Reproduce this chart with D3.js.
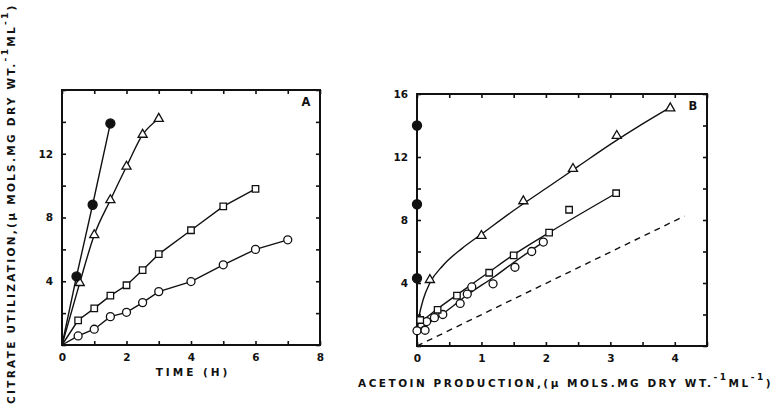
<!DOCTYPE html>
<html lang="en">
<head>
  <meta charset="UTF-8">
  <title>Citrate utilization</title>
  <script src="https://cdn.jsdelivr.net/npm/d3@7"></script>
  <style>
    body { margin: 0; background: #fff; }
    text { font-family: "DejaVu Sans", sans-serif; font-weight: bold; fill: #111; }
  </style>
</head>
<body>
<svg></svg>
<script>
  const width = 777, height = 410

  // panel A : citrate used vs time (h)
  const aTicksX = [0, 1, 2, 3, 4, 5, 6, 7, 8]
  const aLabelsX = [0, 2, 4, 6, 8]
  const ticksY = [0, 2, 4, 6, 8, 10, 12, 14, 16]
  const aLabelsY = [4, 8, 12]

  const aDotT = [0.45, 0.95, 1.5]
  const aDotV = [4.3, 8.8, 13.9]
  const aTriT = [0.55, 1.0, 1.5, 2.0, 2.5, 3.0]
  const aTriV = [3.9, 6.9, 9.1, 11.2, 13.2, 14.2]
  const aSqT = [0.5, 1.0, 1.5, 2.0, 2.5, 3.0, 4.0, 5.0, 6.0]
  const aSqV = [1.55, 2.3, 3.1, 3.75, 4.7, 5.7, 7.2, 8.7, 9.8]
  const aCirT = [0.5, 1.0, 1.5, 2.0, 2.5, 3.0, 4.0, 5.0, 6.0, 7.0]
  const aCirV = [0.57, 0.99, 1.78, 2.05, 2.66, 3.35, 3.98, 5.03, 6.0, 6.6]

  // panel B : citrate used vs acetoin produced
  const bTicksX = [0, 0.5, 1, 1.5, 2, 2.5, 3, 3.5, 4, 4.5]
  const bLabelsX = [0, 1, 2, 3, 4]
  const bLabelsY = [4, 8, 12, 16]

  const bDotX = [0, 0, 0]
  const bDotV = [4.3, 9.0, 14.0]
  const bTriX = [0.2, 1.0, 1.65, 2.42, 3.1, 3.93]
  const bTriV = [4.2, 7.0, 9.2, 11.25, 13.35, 15.1]
  const bTriFitX = [0.01, 0.03, 0.1, 0.2, 0.4, 0.7, 1.0, 1.5, 2.0, 2.5, 3.0, 3.5, 3.93]
  const bTriFitV = [1.2, 1.8, 3.0, 4.0, 5.1, 6.2, 7.1, 8.6, 10.0, 11.4, 12.8, 14.1, 15.15]
  const bSqX = [0.05, 0.32, 0.62, 1.12, 1.5, 2.05, 2.36, 3.09]
  const bSqV = [1.65, 2.3, 3.2, 4.65, 5.75, 7.2, 8.65, 9.7]
  const bSqFitX = [0.02, 0.3, 0.62, 1.12, 1.5, 2.05, 3.09]
  const bSqFitV = [1.4, 2.3, 3.25, 4.7, 5.8, 7.2, 9.7]
  const bCirX = [0, 0.125, 0.15, 0.27, 0.4, 0.67, 0.78, 0.85, 1.18, 1.52, 1.78, 1.96]
  const bCirV = [0.97, 1.0, 1.55, 1.8, 2.0, 2.7, 3.3, 3.75, 3.95, 5.0, 6.0, 6.6]
  const bCirFitX = [0, 0.4, 0.8, 1.2, 1.5, 1.96]
  const bCirFitV = [1.0, 2.05, 3.3, 4.4, 5.3, 6.6]
  const bDashX = [0, 4.15]
  const bDashV = [0, 8.25]

  const zip = (xs, ys) => xs.map((x, i) => [x, ys[i]])
  const withOrigin = (xs, ys) => [[0, 0], ...zip(xs, ys)]

  const svg = d3.select('svg')
      .attr('width', width)
      .attr('height', height)

  const xA = d3.scaleLinear().domain([0, 8]).range([62, 320])
  const yA = d3.scaleLinear().domain([0, 16]).range([345, 90])
  const xB = d3.scaleLinear().domain([0, 4.5]).range([417, 707])
  const yB = d3.scaleLinear().domain([0, 16]).range([346, 94])

  function frame(x, y, xt, xl, yl, letter) {
    const [x0, x1] = x.range(), [y0, y1] = y.range()
    const g = svg.append('g')
    const fmt = labels => d => labels.includes(d) ? d : ''

    g.append('g')
        .attr('transform', `translate(0,${y0})`)
        .call(d3.axisBottom(x).tickValues(xt).tickSize(-4).tickPadding(9).tickFormat(fmt(xl)))
    g.append('g')
        .attr('transform', `translate(0,${y1})`)
        .call(d3.axisTop(x).tickValues(xt).tickSize(-4).tickFormat(''))
    g.append('g')
        .attr('transform', `translate(${x0},0)`)
        .call(d3.axisLeft(y).tickValues(ticksY).tickSize(-4).tickPadding(9).tickFormat(fmt(yl)))
    g.append('g')
        .attr('transform', `translate(${x1},0)`)
        .call(d3.axisRight(y).tickValues(ticksY).tickSize(-4).tickFormat(''))

    g.selectAll('.domain').remove()
    g.selectAll('.tick line').attr('stroke', '#111').attr('stroke-width', 1.6)
    g.selectAll('.tick text').attr('font-size', 10.5).attr('font-family', null)

    g.append('rect')
        .attr('x', x0).attr('y', y1)
        .attr('width', x1 - x0).attr('height', y0 - y1)
        .attr('fill', 'none')
        .attr('stroke', '#111')
        .attr('stroke-width', 2)

    g.append('text')
        .attr('x', x1 - 14).attr('y', y1 + 16)
        .attr('text-anchor', 'middle')
        .attr('font-size', 11.5)
        .text(letter)
  }

  function line(x, y, pts, curve, dash) {
    svg.append('path')
        .attr('d', d3.line().curve(curve || d3.curveLinear).x(d => x(d[0])).y(d => y(d[1]))(pts))
        .attr('fill', 'none')
        .attr('stroke', '#111')
        .attr('stroke-width', 1.4)
        .attr('stroke-dasharray', dash || null)
  }

  function marks(x, y, pts, type, size, filled) {
    svg.append('g').selectAll('path')
        .data(pts)
        .join('path')
        .attr('transform', d => `translate(${x(d[0])},${y(d[1])})`)
        .attr('d', d3.symbol().type(type).size(size))
        .attr('fill', filled ? '#111' : '#fff')
        .attr('stroke', '#111')
        .attr('stroke-width', 1.3)
  }

  frame(xA, yA, aTicksX, aLabelsX, aLabelsY, 'A')
  frame(xB, yB, bTicksX, bLabelsX, bLabelsY, 'B')

  // panel A
  line(xA, yA, withOrigin(aDotT, aDotV))
  line(xA, yA, withOrigin(aTriT, aTriV), d3.curveMonotoneX)
  line(xA, yA, withOrigin(aSqT, aSqV))
  line(xA, yA, withOrigin(aCirT, aCirV))
  marks(xA, yA, zip(aCirT, aCirV), d3.symbolCircle, 50, false)
  marks(xA, yA, zip(aSqT, aSqV), d3.symbolSquare, 42, false)
  marks(xA, yA, zip(aTriT, aTriV), d3.symbolTriangle, 36, false)
  marks(xA, yA, zip(aDotT, aDotV), d3.symbolCircle, 64, true)

  // panel B
  line(xB, yB, zip(bDashX, bDashV), d3.curveLinear, '6,5')
  line(xB, yB, zip(bTriFitX, bTriFitV), d3.curveMonotoneX)
  line(xB, yB, zip(bSqFitX, bSqFitV), d3.curveMonotoneX)
  line(xB, yB, zip(bCirFitX, bCirFitV), d3.curveMonotoneX)
  marks(xB, yB, zip(bCirX, bCirV), d3.symbolCircle, 50, false)
  marks(xB, yB, zip(bSqX, bSqV), d3.symbolSquare, 42, false)
  marks(xB, yB, zip(bTriX, bTriV), d3.symbolTriangle, 36, false)
  marks(xB, yB, zip(bDotX, bDotV), d3.symbolCircle, 64, true)

  // axis titles
  svg.append('text')
      .attr('x', 193).attr('y', 376)
      .attr('text-anchor', 'middle')
      .attr('font-size', 10.5)
      .attr('letter-spacing', 3)
      .text('TIME (H)')

  function unitTitle(t, first) {
    t.append('tspan').text(first + '(\u03BC MOLS.MG DRY WT.')
    t.append('tspan').attr('dy', -7).attr('font-size', 9).text('-1')
    t.append('tspan').attr('dy', 7).text('ML')
    t.append('tspan').attr('dy', -7).attr('font-size', 9).text('-1')
    t.append('tspan').attr('dy', 7).text(')')
  }

  svg.append('text')
      .attr('x', 358).attr('y', 387)
      .attr('font-size', 10.5)
      .attr('letter-spacing', 2.5)
      .call(t => unitTitle(t, 'ACETOIN PRODUCTION,'))

  svg.append('text')
      .attr('transform', 'translate(15,404) rotate(-90)')
      .attr('font-size', 10.5)
      .attr('letter-spacing', 2.3)
      .call(t => unitTitle(t, 'CITRATE UTILIZATION,'))
</script>
</body>
</html>
